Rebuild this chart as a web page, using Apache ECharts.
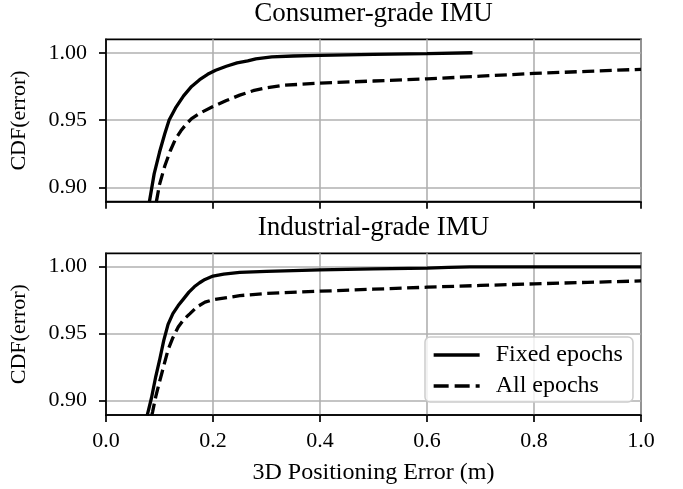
<!DOCTYPE html>
<html>
<head>
<meta charset="utf-8">
<script src="https://cdn.jsdelivr.net/npm/echarts@6/dist/echarts.min.js"></script>
<style>
html,body{margin:0;padding:0;background:#fff;}
#chart{width:683px;height:489px;}
</style>
</head>
<body>
<div id="chart"></div>
<script>
const titles = ['Consumer-grade IMU', 'Industrial-grade IMU'];
const seriesNames = ['Fixed epochs', 'All epochs'];
const xTicks = [0, 0.2, 0.4, 0.6, 0.8, 1.0];
const yTicks = [0.90, 0.95, 1.00];
const xLabel = '3D Positioning Error (m)';
const yLabel = 'CDF(error)';

const consumerFixedX = [0.081, 0.090, 0.100, 0.110, 0.118, 0.130, 0.145, 0.160, 0.175, 0.190, 0.205, 0.225, 0.245, 0.265, 0.280, 0.310, 0.350, 0.400, 0.500, 0.600, 0.685];
const consumerFixedY = [0.889, 0.910, 0.926, 0.940, 0.950, 0.959, 0.968, 0.975, 0.980, 0.984, 0.987, 0.990, 0.9925, 0.994, 0.9955, 0.997, 0.9976, 0.998, 0.9988, 0.9994, 1.000];

const consumerAllX = [0.094, 0.100, 0.110, 0.120, 0.130, 0.140, 0.150, 0.160, 0.175, 0.200, 0.225, 0.250, 0.275, 0.300, 0.330, 0.400, 0.500, 0.600, 0.700, 0.800, 0.900, 1.000];
const consumerAllY = [0.889, 0.902, 0.916, 0.927, 0.936, 0.942, 0.947, 0.951, 0.955, 0.960, 0.9645, 0.9685, 0.9718, 0.974, 0.9758, 0.9774, 0.979, 0.9806, 0.9826, 0.9846, 0.9862, 0.9877];

const industrialFixedX = [0.077, 0.085, 0.093, 0.100, 0.108, 0.116, 0.125, 0.135, 0.145, 0.155, 0.165, 0.175, 0.185, 0.200, 0.220, 0.250, 0.300, 0.400, 0.500, 0.600, 0.640, 0.680, 0.800, 1.000];
const industrialFixedY = [0.889, 0.902, 0.918, 0.930, 0.945, 0.957, 0.965, 0.971, 0.976, 0.981, 0.985, 0.988, 0.9905, 0.993, 0.9945, 0.9958, 0.9965, 0.9977, 0.9983, 0.9989, 0.9995, 0.9999, 0.9999, 0.9999];

const industrialAllX = [0.0855, 0.087, 0.093, 0.100, 0.108, 0.116, 0.125, 0.135, 0.145, 0.157, 0.170, 0.185, 0.200, 0.250, 0.300, 0.400, 0.500, 0.600, 0.700, 0.800, 0.900, 1.000];
const industrialAllY = [0.889, 0.8915, 0.903, 0.914, 0.926, 0.938, 0.947, 0.955, 0.9605, 0.965, 0.970, 0.9735, 0.9753, 0.9784, 0.980, 0.9817, 0.9832, 0.9847, 0.986, 0.9872, 0.9883, 0.9894];

const FONT = '"Liberation Serif", "Times New Roman", serif';
const LW = 3.3;
const DASH = [12, 5.5];
const zip = (xs, ys) => xs.map((x, i) => [x, ys[i]]);

const chart = echarts.init(document.getElementById('chart'), null, {renderer: 'canvas'});

const grids = [
  {left: 106, right: 42, top: 39.3, height: 162.4, show: true, borderColor: '#000', borderWidth: 1.7, backgroundColor: 'transparent'},
  {left: 106, right: 42, top: 253.3, height: 161.7, show: true, borderColor: '#000', borderWidth: 1.7, backgroundColor: 'transparent'}
];

function xAxis(i) {
  return {
    type: 'value', gridIndex: i, min: 0, max: 1, interval: 0.2,
    axisLine: {show: true, onZero: false, lineStyle: {color: '#000', width: 1.7}},
    axisTick: {show: true, inside: false, length: 7, lineStyle: {color: '#000', width: 1.7}},
    axisLabel: {show: i === 1, margin: 15, color: '#000', fontFamily: FONT, fontSize: 22,
      formatter: v => v.toFixed(1)},
    splitLine: {show: true, lineStyle: {color: '#b0b0b0', width: 1.6}},
    name: i === 1 ? xLabel : '', nameLocation: 'middle', nameGap: 46,
    nameTextStyle: {color: '#000', fontFamily: FONT, fontSize: 24}
  };
}
function yAxis(i) {
  return {
    type: 'value', gridIndex: i, min: 0.8893, max: 1.01,
    axisLine: {show: true, lineStyle: {color: '#000', width: 1.7}},
    axisTick: {show: true, inside: false, length: 7, customValues: yTicks, lineStyle: {color: '#000', width: 1.7}},
    axisLabel: {show: true, margin: 19, customValues: yTicks, color: '#000', fontFamily: FONT, fontSize: 22,
      formatter: v => Number(v).toFixed(2)},
    splitLine: {show: true, lineStyle: {color: '#b0b0b0', width: 1.6}},
    name: yLabel, nameLocation: 'middle', nameGap: 76, nameRotate: 90,
    nameTextStyle: {color: '#000', fontFamily: FONT, fontSize: 22}
  };
}

function line(name, data, idx, dashed) {
  return {
    type: 'line', name: name, xAxisIndex: idx, yAxisIndex: idx, data: data,
    symbol: 'none', showSymbol: false, smooth: false, clip: true,
    lineStyle: {color: '#000', width: LW, type: dashed ? DASH : 'solid', cap: 'butt'},
    itemStyle: {color: '#000'}, z: 5
  };
}

const option = {
  animation: false,
  backgroundColor: '#fff',
  grid: grids,
  xAxis: [xAxis(0), xAxis(1)],
  yAxis: [yAxis(0), yAxis(1)],
  legend: {
    show: true, orient: 'vertical', left: 425, top: 337,
    data: [
      {name: seriesNames[0], lineStyle: {color: '#000', width: LW, type: 'solid'}},
      {name: seriesNames[1], lineStyle: {color: '#000', width: LW, type: [15, 6]}}
    ],
    itemWidth: 46, itemHeight: 14, itemGap: 7,
    padding: [6, 10, 4, 7],
    itemStyle: {color: 'rgba(0,0,0,0)', borderWidth: 0, opacity: 0},
    backgroundColor: 'rgba(255,255,255,0.8)', borderColor: '#cccccc', borderWidth: 1.5, borderRadius: 5,
    textStyle: {color: '#000', fontFamily: FONT, fontSize: 24, padding: [0, 0, 0, 11]},
    selectedMode: false
  },
  graphic: [
    {type: 'text', x: 373.5, y: 14, style: {text: titles[0], textAlign: 'center', textVerticalAlign: 'middle', font: '27px ' + FONT, fill: '#000'}},
    {type: 'text', x: 373.5, y: 228, style: {text: titles[1], textAlign: 'center', textVerticalAlign: 'middle', font: '27px ' + FONT, fill: '#000'}}
  ],
  series: [
    line(seriesNames[0], zip(consumerFixedX, consumerFixedY), 0, false),
    line(seriesNames[1], zip(consumerAllX, consumerAllY), 0, true),
    line(seriesNames[0], zip(industrialFixedX, industrialFixedY), 1, false),
    line(seriesNames[1], zip(industrialAllX, industrialAllY), 1, true)
  ]
};
chart.setOption(option);
</script>
</body>
</html>
